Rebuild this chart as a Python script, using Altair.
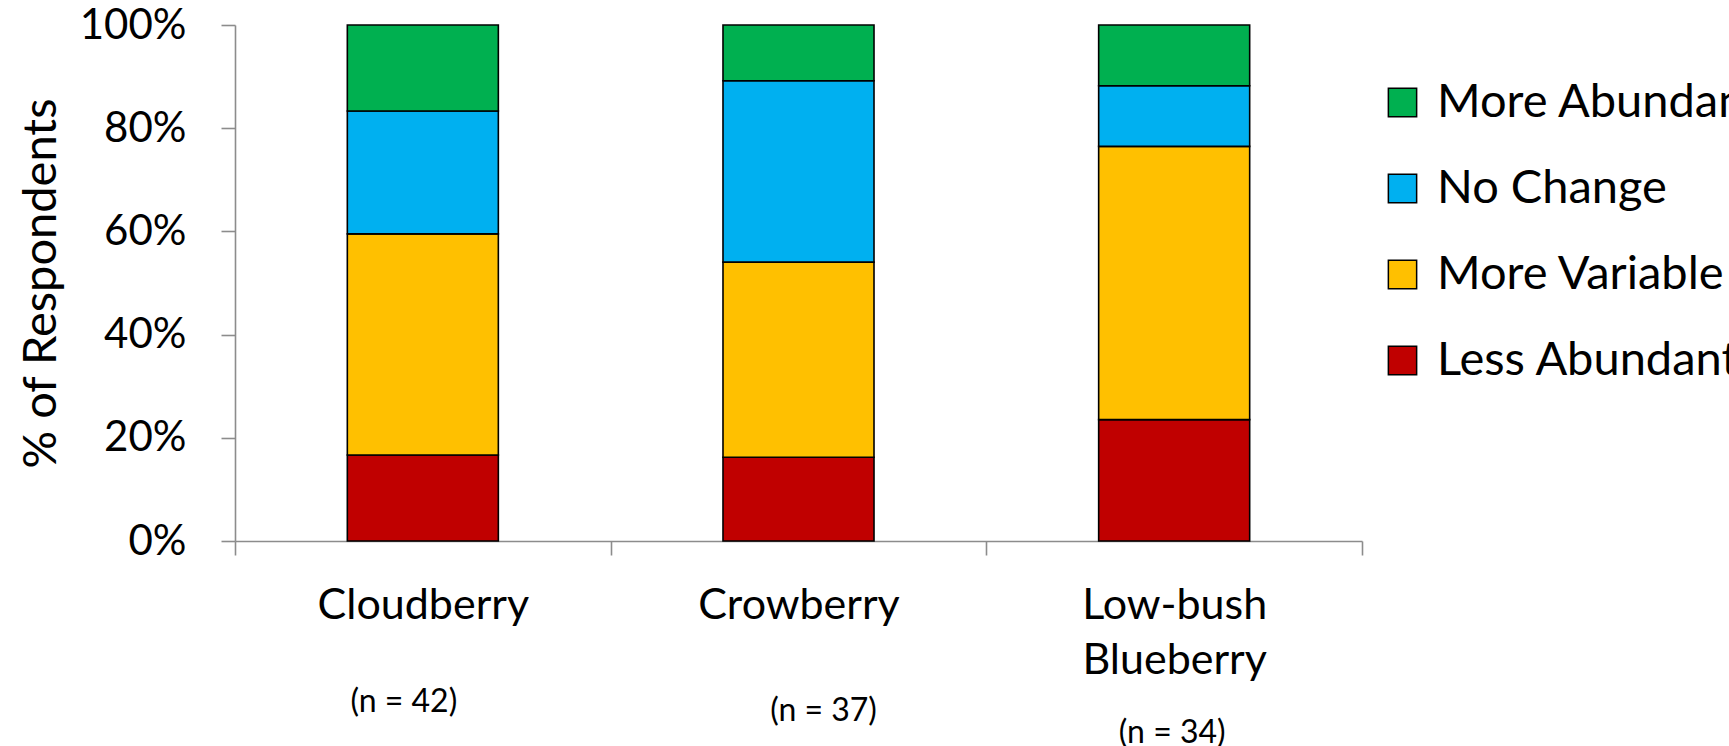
import altair as alt
import pandas as pd

# Survey answers per berry: how abundance has changed
berries = ["Cloudberry", "Crowberry", "Low-bush Blueberry"]
sample_sizes = [42, 37, 34]

# respondents giving each answer (per berry, same order as `berries`)
less_abundant = [7, 6, 8]
more_variable = [18, 14, 18]
no_change = [10, 13, 4]
more_abundant = [7, 4, 4]

# stacking order from the baseline upward
stack_order = ["Less Abundant", "More Variable", "No Change", "More Abundant"]
# legend order (top to bottom) and colours
legend_order = ["More Abundant", "No Change", "More Variable", "Less Abundant"]
legend_colors = ["#00B050", "#00B0F0", "#FFC000", "#C00000"]

counts = {
    "Less Abundant": less_abundant,
    "More Variable": more_variable,
    "No Change": no_change,
    "More Abundant": more_abundant,
}

rows = []
for answer in stack_order:
    for berry, value in zip(berries, counts[answer]):
        rows.append({
            "berry": berry,
            "answer": answer,
            "count": value,
            "rank": stack_order.index(answer),
        })
df = pd.DataFrame(rows)

FONT = "Lato"
AXIS_GRAY = "#8C8C8C"

x_enc = alt.X(
    "berry:N",
    sort=berries,
    scale=alt.Scale(domain=berries, paddingInner=0, paddingOuter=0),
    axis=alt.Axis(
        title=None,
        labelAngle=0,
        labelBaseline="top",
        labelPadding=29,
        labelLimit=0,
        labelFontSize=43,
        labelLineHeight=55,
        labelExpr="datum.label == 'Low-bush Blueberry' ? ['Low-bush', 'Blueberry'] : datum.label",
        tickBand="extent",
        tickSize=14,
    ),
)

bars = alt.Chart(df).mark_bar(
    width=alt.RelativeBandSize(0.402),
    stroke="black",
    strokeWidth=1.6,
).encode(
    x=x_enc,
    y=alt.Y(
        "count:Q",
        stack="normalize",
        scale=alt.Scale(domain=[0, 1], nice=False),
        axis=alt.Axis(
            title="% of Respondents",
            values=[0, 0.2, 0.4, 0.6, 0.8, 1.0],
            format=".0%",
            grid=False,
            tickSize=14,
            labelPadding=35,
            titlePadding=14,
        ),
    ),
    color=alt.Color(
        "answer:N",
        scale=alt.Scale(domain=legend_order, range=legend_colors),
        legend=alt.Legend(
            title=None,
            orient="none",
            legendX=1144,
            legendY=54,
            symbolType="square",
            symbolSize=800,
            symbolStrokeColor="black",
            symbolStrokeWidth=1.5,
            symbolOpacity=1,
            labelFont=FONT,
            labelFontSize=47,
            labelColor="black",
            labelOffset=11,
            labelLimit=0,
            rowPadding=38,
        ),
    ),
    order=alt.Order("rank:Q", sort="ascending"),
)

# sample-size notes under each category label
note_layout = {
    "Cloudberry": (-19, 677),
    "Crowberry": (25, 686),
    "Low-bush Blueberry": (-2, 708),
}
notes_df = pd.DataFrame({
    "berry": berries,
    "note": [f"(n = {n})" for n in sample_sizes],
})
notes = []
for berry in berries:
    dx, ypix = note_layout[berry]
    notes.append(
        alt.Chart(notes_df)
        .transform_filter(alt.datum.berry == berry)
        .mark_text(font=FONT, fontSize=32, color="black", baseline="middle", dx=dx)
        .encode(x=alt.X("berry:N", sort=berries), y=alt.value(ypix), text="note:N")
    )

chart = (
    alt.layer(bars, *notes)
    .properties(
        width=1127,
        height=516,
        autosize=alt.AutoSizeParams(type="none"),
        padding={"left": 235, "top": 25, "right": 367, "bottom": 205},
        background="white",
    )
    .configure_view(stroke=None)
    .configure_axis(
        domainColor=AXIS_GRAY,
        domainWidth=1.6,
        tickColor=AXIS_GRAY,
        tickWidth=1.6,
        labelFont=FONT,
        labelFontSize=42,
        labelColor="black",
        titleFont=FONT,
        titleFontSize=47,
        titleFontWeight="normal",
        titleColor="black",
    )
)

chart.save("out.html", embed_options={"renderer": "svg", "actions": False})
